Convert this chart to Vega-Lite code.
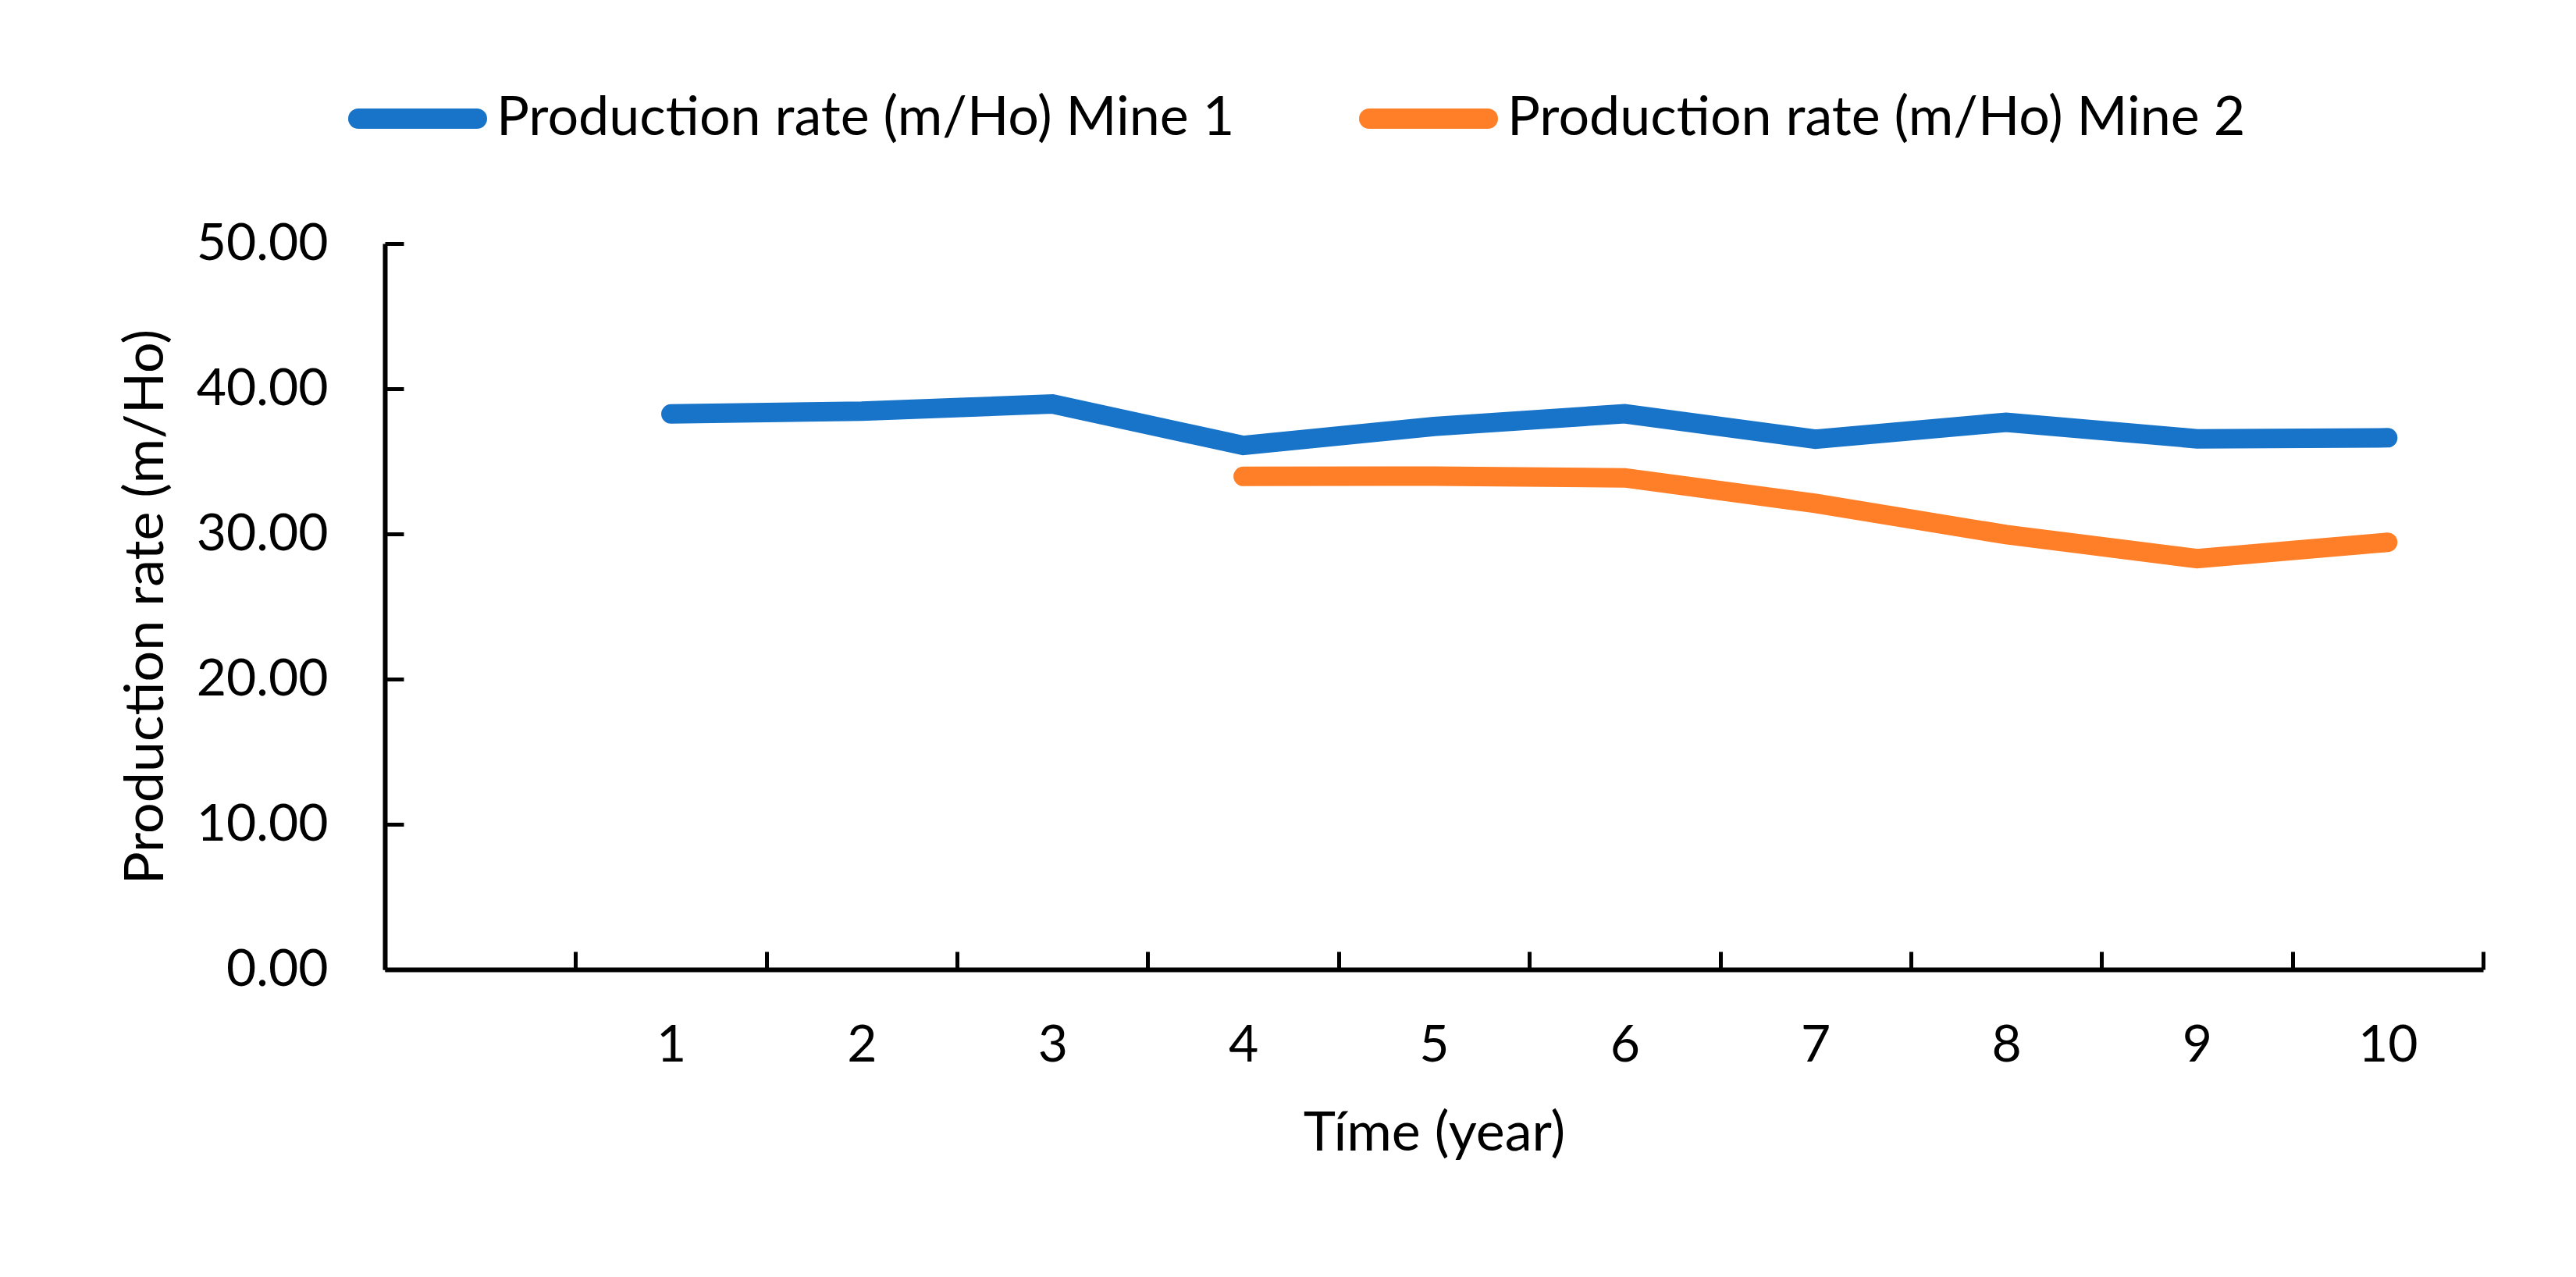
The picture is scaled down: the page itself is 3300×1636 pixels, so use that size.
{
  "$schema": "https://vega.github.io/schema/vega-lite/v6.json",
  "width": 2688,
  "height": 930,
  "autosize": "none",
  "padding": {"left": 493, "top": 312, "right": 119, "bottom": 394},
  "background": "white",
  "config": {"font": "Lato", "view": {"stroke": null}},
  "data": {
    "values": [
      {"year": 1, "series": "Production rate (m/Ho) Mine 1", "rate": 38.26},
      {"year": 2, "series": "Production rate (m/Ho) Mine 1", "rate": 38.45},
      {"year": 3, "series": "Production rate (m/Ho) Mine 1", "rate": 38.95},
      {"year": 4, "series": "Production rate (m/Ho) Mine 1", "rate": 36.09},
      {"year": 5, "series": "Production rate (m/Ho) Mine 1", "rate": 37.4},
      {"year": 6, "series": "Production rate (m/Ho) Mine 1", "rate": 38.28},
      {"year": 7, "series": "Production rate (m/Ho) Mine 1", "rate": 36.52},
      {"year": 8, "series": "Production rate (m/Ho) Mine 1", "rate": 37.69},
      {"year": 9, "series": "Production rate (m/Ho) Mine 1", "rate": 36.55},
      {"year": 10, "series": "Production rate (m/Ho) Mine 1", "rate": 36.62},
      {"year": 4, "series": "Production rate (m/Ho) Mine 2", "rate": 33.96},
      {"year": 5, "series": "Production rate (m/Ho) Mine 2", "rate": 33.98},
      {"year": 6, "series": "Production rate (m/Ho) Mine 2", "rate": 33.86},
      {"year": 7, "series": "Production rate (m/Ho) Mine 2", "rate": 32.1},
      {"year": 8, "series": "Production rate (m/Ho) Mine 2", "rate": 29.95},
      {"year": 9, "series": "Production rate (m/Ho) Mine 2", "rate": 28.3},
      {"year": 10, "series": "Production rate (m/Ho) Mine 2", "rate": 29.42}
    ]
  },
  "mark": {"type": "line", "strokeWidth": 25, "strokeCap": "round", "strokeJoin": "miter"},
  "encoding": {
    "x": {
      "field": "year",
      "type": "ordinal",
      "scale": {"type": "band", "domain": [0, 1, 2, 3, 4, 5, 6, 7, 8, 9, 10], "paddingInner": 0, "paddingOuter": 0},
      "axis": {
        "title": "Tíme (year)",
        "labelExpr": "datum.value == 0 ? '' : datum.label",
        "tickBand": "extent",
        "tickSize": -23,
        "tickWidth": 5,
        "tickColor": "black",
        "domainColor": "black",
        "domainWidth": 6,
        "labelAngle": 0,
        "labelFontSize": 66,
        "labelColor": "black",
        "labelPadding": 88,
        "titleFontSize": 70,
        "titleFontWeight": "normal",
        "titleColor": "black",
        "titlePadding": 46,
        "grid": false
      }
    },
    "y": {
      "field": "rate",
      "type": "quantitative",
      "scale": {"domain": [0, 50]},
      "axis": {
        "title": "Production rate (m/Ho)",
        "values": [0, 10, 20, 30, 40, 50],
        "format": ".2f",
        "tickSize": -24,
        "tickWidth": 5,
        "tickColor": "black",
        "domainColor": "black",
        "domainWidth": 6,
        "labelFontSize": 66,
        "labelColor": "black",
        "labelPadding": 97,
        "titleFontSize": 70,
        "titleFontWeight": "normal",
        "titleColor": "black",
        "titlePadding": 70,
        "grid": false
      }
    },
    "color": {
      "field": "series",
      "type": "nominal",
      "scale": {"domain": ["Production rate (m/Ho) Mine 1", "Production rate (m/Ho) Mine 2"], "range": ["#1874c8", "#fe7f27"]},
      "legend": {
        "title": null,
        "orient": "none",
        "direction": "horizontal",
        "legendX": -47,
        "legendY": -249,
        "padding": 0,
        "symbolType": "stroke",
        "symbolSize": 23104,
        "symbolStrokeWidth": 26,
        "labelFontSize": 70,
        "labelColor": "black",
        "labelOffset": 12,
        "labelLimit": 2000,
        "columnPadding": 120,
        "encode": {"symbols": {"update": {"strokeCap": {"value": "round"}}}}
      }
    }
  }
}
